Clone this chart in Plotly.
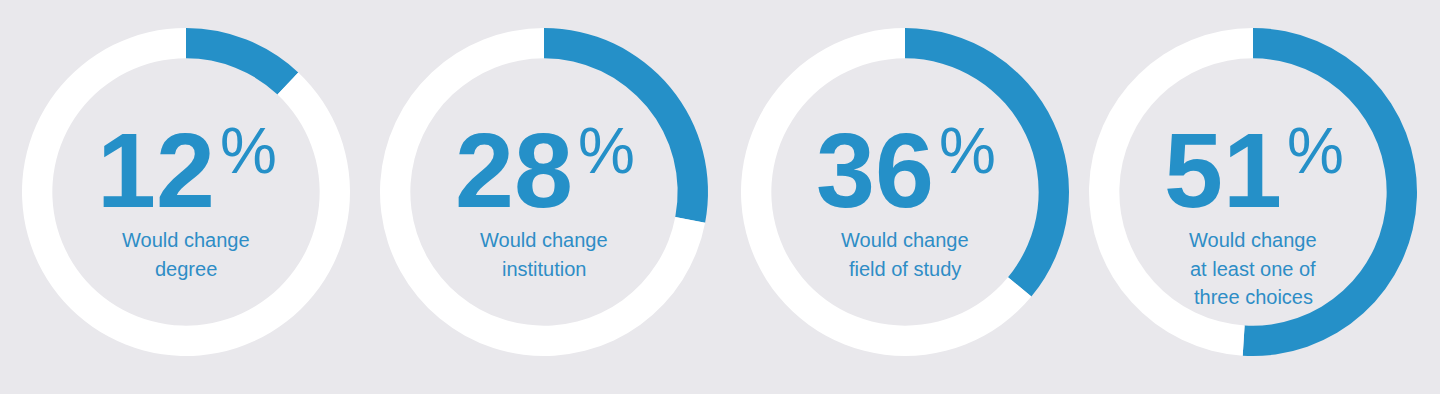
import plotly.graph_objects as go

# Data
percentages = [12, 28, 36, 51]
label_lines = [
    ["Would change", "degree"],
    ["Would change", "institution"],
    ["Would change", "field of study"],
    ["Would change", "at least one of", "three choices"],
]

# Layout / styling
W, H = 1440, 394
centers_x = [186, 544, 905, 1253]
center_y = 192
outer_r = 164
hole = 0.815
BLUE = "#2590C8"
LABEL_BLUE = "#2E8DC6"
RING = "#FFFFFF"
BG = "#E9E8EC"
FONT = "Liberation Sans, Arial, Helvetica, sans-serif"

fig = go.Figure()
annotations = []
for i, pct in enumerate(percentages):
    cx = centers_x[i]
    fig.add_trace(go.Pie(
        values=[pct, 100 - pct],
        marker=dict(colors=[BLUE, RING], line=dict(width=0)),
        hole=hole,
        sort=False,
        direction="clockwise",
        rotation=0,
        textinfo="none",
        hoverinfo="skip",
        showlegend=False,
        domain=dict(x=[(cx - outer_r) / W, (cx + outer_r) / W],
                    y=[1 - (center_y + outer_r) / H, 1 - (center_y - outer_r) / H]),
    ))
    # big number
    annotations.append(dict(
        x=(cx - 30) / W, y=1 - 170 / H, xref="paper", yref="paper",
        text=f"<b>{pct}</b>", showarrow=False, xanchor="center", yanchor="middle",
        font=dict(family=FONT, size=106, color=BLUE),
    ))
    # percent sign
    annotations.append(dict(
        x=(cx + 32) / W, y=1 - 151 / H, xref="paper", yref="paper",
        text="%", showarrow=False, xanchor="left", yanchor="middle",
        font=dict(family=FONT, size=64, color=BLUE),
    ))
    for j, line in enumerate(label_lines[i]):
        annotations.append(dict(
            x=cx / W, y=1 - (240 + j * 28.5) / H, xref="paper", yref="paper",
            text=line, showarrow=False, xanchor="center", yanchor="middle",
            font=dict(family=FONT, size=20, color=LABEL_BLUE),
        ))

fig.update_layout(
    width=W, height=H,
    margin=dict(l=0, r=0, t=0, b=0),
    paper_bgcolor=BG, plot_bgcolor=BG,
    annotations=annotations,
    showlegend=False,
)
fig.write_html(
    "out.html",
    config={"displayModeBar": False},
    post_script="document.body.style.margin='0';document.body.style.background='%s';" % BG,
)
